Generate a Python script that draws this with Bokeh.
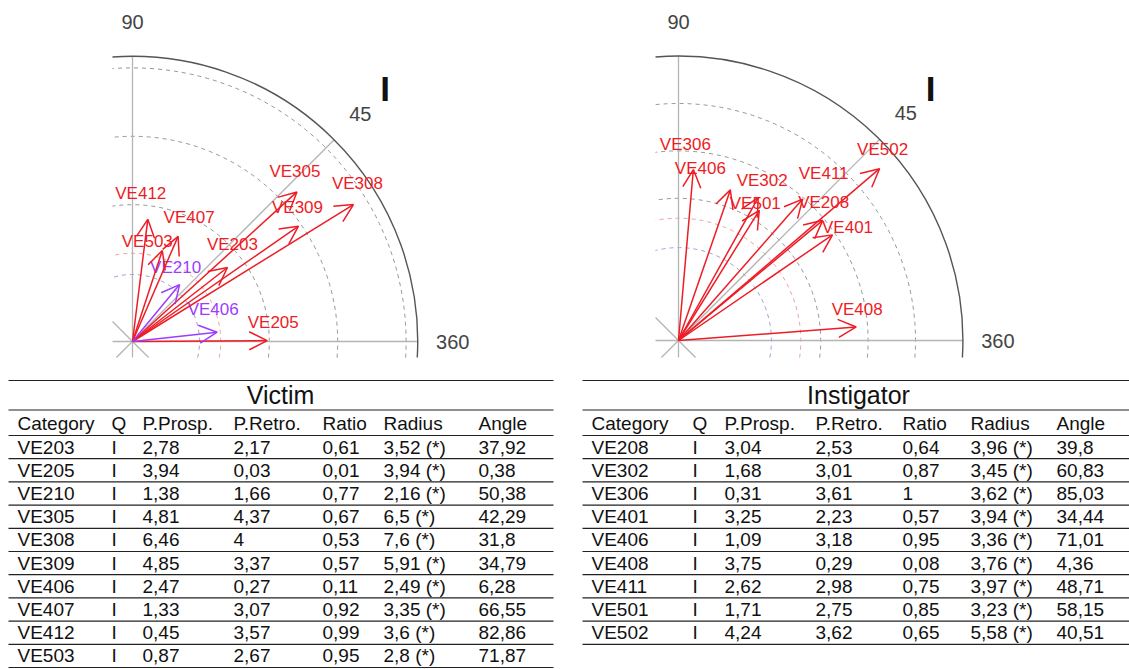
import math
from bokeh.plotting import figure
from bokeh.layouts import row, column
from bokeh.models import Range1d, Arrow, OpenHead, ColumnDataSource
from bokeh.embed import file_html
from bokeh.resources import INLINE
from bokeh.core.properties import value

# ---------------- data ----------------
victim_cat = ["VE203", "VE205", "VE210", "VE305", "VE308", "VE309", "VE406", "VE407", "VE412", "VE503"]
victim_q = ["I"] * 10
victim_prosp = [2.78, 3.94, 1.38, 4.81, 6.46, 4.85, 2.47, 1.33, 0.45, 0.87]
victim_retro = [2.17, 0.03, 1.66, 4.37, 4, 3.37, 0.27, 3.07, 3.57, 2.67]
victim_ratio = [0.61, 0.01, 0.77, 0.67, 0.53, 0.57, 0.11, 0.92, 0.99, 0.95]
victim_radius = [3.52, 3.94, 2.16, 6.5, 7.6, 5.91, 2.49, 3.35, 3.6, 2.8]
victim_angle = [37.92, 0.38, 50.38, 42.29, 31.8, 34.79, 6.28, 66.55, 82.86, 71.87]

inst_cat = ["VE208", "VE302", "VE306", "VE401", "VE406", "VE408", "VE411", "VE501", "VE502"]
inst_q = ["I"] * 9
inst_prosp = [3.04, 1.68, 0.31, 3.25, 1.09, 3.75, 2.62, 1.71, 4.24]
inst_retro = [2.53, 3.01, 3.61, 2.23, 3.18, 0.29, 2.98, 2.75, 3.62]
inst_ratio = [0.64, 0.87, 1, 0.57, 0.95, 0.08, 0.75, 0.85, 0.65]
inst_radius = [3.96, 3.45, 3.62, 3.94, 3.36, 3.76, 3.97, 3.23, 5.58]
inst_angle = [39.8, 60.83, 85.03, 34.44, 71.01, 4.36, 48.71, 58.15, 40.51]

header = ["Category", "Q", "P.Prosp.", "P.Retro.", "Ratio", "Radius", "Angle"]
angle_ticks = ["90", "45", "360"]
victim_grid = [4, 6, 8]
inst_grid = [3, 4, 5]
z_levels = [1.96, 2.58]   # significance circles

# label placement nudges (screen px, relative to arrow tip)
victim_nudge = [(5, -23), (6, -18), (-4, -17), (-2, -20), (4, -21), (-1, -19),
                (-4, -23), (11, -19), (-7, -26), (-15, -9)]
inst_nudge = [(1, -18), (4, -17), (-8, -25), (15, -7), (-30, -21), (1, -17),
              (21, -26), (-4, -7), (3, -19)]

FONT = value("Liberation Sans")
RED = "#ee1c25"
PURPLE = "#9b3dff"


def fmt(v):
    return f"{v:g}".replace(".", ",")


def polar_panel(cats, radius, angle, grid_r, nudge, W, H, ox, oy, s, r_out, clip_a, clip_c):
    p = figure(width=W, height=H,
               x_range=Range1d(-ox / s, (W - ox) / s),
               y_range=Range1d(-(H - oy) / s, oy / s),
               output_backend="svg", toolbar_location=None, min_border=0,
               x_axis_location=None, y_axis_location=None)
    p.xgrid.visible = False
    p.ygrid.visible = False
    p.outline_line_color = None

    def arc_span(r):
        st = -math.asin(min(1.0, clip_c / r))
        en = math.pi / 2 + math.asin(min(1.0, clip_a / r))
        return st, en

    # grid circles
    for r in grid_r:
        st, en = arc_span(r)
        p.arc(x=0, y=0, radius=r, start_angle=st, end_angle=en,
              line_color="#959595", line_dash="4 4", line_width=1)
    for r, col in zip(z_levels, ["#a99ad8", "#eba0a0"]):
        st, en = arc_span(r)
        p.arc(x=0, y=0, radius=r, start_angle=st, end_angle=en,
              line_color=col, line_dash="4 4", line_width=1)
    # radial lines
    d = min(clip_a, clip_c)
    c45 = math.cos(math.pi / 4)
    p.segment(x0=[-clip_a, 0, -d, -clip_a], y0=[0, -clip_c, -d, clip_a],
              x1=[r_out, 0, r_out * c45, clip_c], y1=[0, r_out, r_out * c45, -clip_c],
              line_color="#b4b4b4", line_width=1.3)
    # outer circle
    st, en = arc_span(r_out)
    p.arc(x=0, y=0, radius=r_out, start_angle=st, end_angle=en,
          line_color="#555555", line_width=1.4)

    # arrows
    xs = [r * math.cos(math.radians(a)) for r, a in zip(radius, angle)]
    ys = [r * math.sin(math.radians(a)) for r, a in zip(radius, angle)]
    colors = [RED if r >= z_levels[1] else PURPLE for r in radius]
    for col in (RED, PURPLE):
        idx = [i for i, c in enumerate(colors) if c == col]
        if not idx:
            continue
        src = ColumnDataSource(dict(x0=[0] * len(idx), y0=[0] * len(idx),
                                    x1=[xs[i] for i in idx], y1=[ys[i] for i in idx]))
        p.add_layout(Arrow(end=OpenHead(size=18, line_color=col, line_width=1.5),
                           x_start="x0", y_start="y0", x_end="x1", y_end="y1",
                           source=src, line_color=col, line_width=1.5))
    lxs = [x + n[0] / s for x, n in zip(xs, nudge)]
    lys = [y - n[1] / s for y, n in zip(ys, nudge)]
    p.text(x=lxs, y=lys, text=cats, text_color=colors,
           text_font=FONT, text_font_size="17px", text_align="center",
           text_baseline="middle")

    # angle labels
    lx = [0, (r_out + 37 / s) * c45, r_out + 35 / s]
    ly = [r_out + 34 / s, (r_out + 37 / s) * c45, 0]
    p.text(x=lx, y=ly, text=angle_ticks, text_color="#444444", text_font=FONT,
           text_font_size="20px", text_align="center", text_baseline="middle")
    p.text(x=[(r_out + 72 / s) * c45], y=[(r_out + 72 / s) * c45], text=["I"],
           text_color="#111111", text_font=FONT, text_font_size="35px",
           text_font_style="bold", text_align="center", text_baseline="middle")
    return p


def table_panel(title, cats, q, prosp, retro, ratio, radius, angle,
                W, H, px0, py0, lx0, lx1, title_x, col_x):
    p = figure(width=W, height=H,
               x_range=Range1d(px0, px0 + W), y_range=Range1d(py0 + H, py0),
               output_backend="svg", toolbar_location=None, min_border=0,
               x_axis_location=None, y_axis_location=None)
    p.xgrid.visible = False
    p.ygrid.visible = False
    p.outline_line_color = None

    top_y, title_y, under_title, head_y, under_head = 380, 394, 409.5, 423, 435
    pitch = 23.2
    n = len(cats)
    rows = []
    for i in range(n):
        rows.append([cats[i], q[i], fmt(prosp[i]), fmt(retro[i]), fmt(ratio[i]),
                     fmt(radius[i]) + " (*)", fmt(angle[i])])
    ly = [top_y, under_title, under_head] + [under_head + pitch * (i + 1) for i in range(n)]
    p.segment(x0=[lx0] * len(ly), y0=ly, x1=[lx1] * len(ly), y1=ly,
              line_color="#222222", line_width=1.2)
    p.text(x=[title_x], y=[title_y], text=[title], text_color="#111111",
           text_font=FONT, text_font_size="25px", text_align="center",
           text_baseline="middle")
    tx, ty, tt = [], [], []
    for j, h in enumerate(header):
        tx.append(col_x[j]); ty.append(head_y); tt.append(h)
    for i, r in enumerate(rows):
        for j, cell in enumerate(r):
            tx.append(col_x[j]); ty.append(under_head + pitch * (i + 0.5)); tt.append(cell)
    p.text(x=tx, y=ty, text=tt, text_color="#111111", text_font=FONT,
           text_font_size="19px", text_align="left", text_baseline="middle")
    return p


pv = polar_panel(victim_cat, victim_radius, victim_angle, victim_grid, victim_nudge,
                 W=568, H=370, ox=132, oy=341, s=34.2, r_out=8.34,
                 clip_a=0.585, clip_c=0.47)
pi = polar_panel(inst_cat, inst_radius, inst_angle, inst_grid, inst_nudge,
                 W=561, H=370, ox=110, oy=340, s=47.4, r_out=6.0,
                 clip_a=0.485, clip_c=0.36)
tv = table_panel("Victim", victim_cat, victim_q, victim_prosp, victim_retro, victim_ratio,
                 victim_radius, victim_angle, W=568, H=298, px0=0, py0=370,
                 lx0=8, lx1=553, title_x=280,
                 col_x=[17, 111, 142, 233, 322, 383, 478])
ti = table_panel("Instigator", inst_cat, inst_q, inst_prosp, inst_retro, inst_ratio,
                 inst_radius, inst_angle, W=561, H=298, px0=568, py0=370,
                 lx0=582, lx1=1129, title_x=858,
                 col_x=[591, 692, 724, 815, 902, 970, 1056])

layout = column(row(pv, pi), row(tv, ti))
open("out.html", "w").write(file_html(layout, INLINE))
